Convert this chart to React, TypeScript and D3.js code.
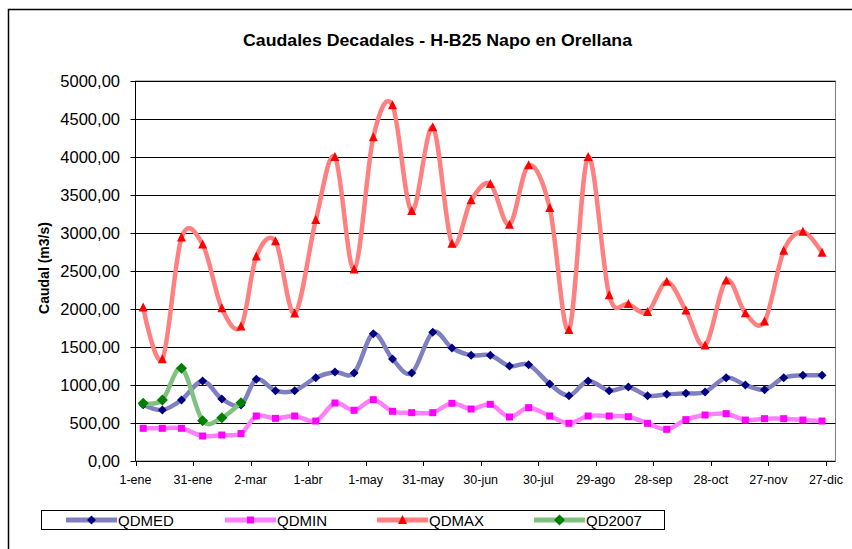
import React from "react";
import * as d3 from "d3";

const xTickLabels = ["1-ene","31-ene","2-mar","1-abr","1-may","31-may","30-jun","30-jul","29-ago","28-sep","28-oct","27-nov","27-dic"];
const xTickDays = [0,30,60,90,120,150,180,210,240,270,300,330,360];
const monthStarts = [0,31,59,90,120,151,181,212,243,273,304,334];
const decadeOffsets = [4,14,24];
const pointDays: number[] = monthStarts.flatMap((m) => decadeOffsets.map((o) => m + o));

const qdmed = [740,671,803,1053,816,737,1075,925,925,1096,1171,1158,1675,1342,1158,1693,1487,1391,1391,1250,1267,1013,860,1053,925,974,860,877,890,908,1096,1000,939,1096,1127,1127];
const qdmin = [430,430,430,329,342,360,592,561,592,526,763,667,807,654,636,636,759,684,746,579,702,592,496,592,592,583,496,417,544,605,623,539,557,557,539,526];
const qdmax = [2020,1340,2940,2850,2010,1770,2690,2890,1940,3170,4000,2520,4260,4680,3290,4390,2860,3430,3645,3110,3890,3330,1725,4000,2180,2065,1960,2360,1980,1520,2375,1945,1835,2765,3015,2740];
const qd2007 = [760,803,1219,531,570,768];
const yTicks = [0,500,1000,1500,2000,2500,3000,3500,4000,4500,5000];

const FONT = "'Liberation Sans', Arial, sans-serif";

type Marker = "diamond" | "square" | "triangle" | "bigdiamond";
function markerPath(kind: Marker, x: number, y: number): string {
  if (kind === "diamond") { const r = 4.5; return `M${x},${y - r}L${x + r},${y}L${x},${y + r}L${x - r},${y}Z`; }
  if (kind === "bigdiamond") { const r = 5.5; return `M${x},${y - r}L${x + r},${y}L${x},${y + r}L${x - r},${y}Z`; }
  if (kind === "square") { const r = 3.5; return `M${x - r},${y - r}h${2 * r}v${2 * r}h${-2 * r}Z`; }
  const r = 4.5; return `M${x},${y - r - 0.5}L${x + r},${y + r - 0.5}L${x - r},${y + r - 0.5}Z`;
}

const seriesList = [
  { name: "QDMED", values: qdmed, line: "#8080C0", fill: "#000080", marker: "diamond" as Marker },
  { name: "QDMIN", values: qdmin, line: "#FF80FF", fill: "#FF00FF", marker: "square" as Marker },
  { name: "QDMAX", values: qdmax, line: "#FF8080", fill: "#FF0000", marker: "triangle" as Marker },
  { name: "QD2007", values: qd2007, line: "#80C080", fill: "#008000", marker: "bigdiamond" as Marker },
];
const legendX = [66, 225, 377, 534];

export default function App() {
  const left = 135.5, right = 835.5, top = 81, bottom = 461;
  const x = d3.scaleLinear().domain([0, 365]).range([left, right]);
  const y = d3.scaleLinear().domain([0, 5000]).range([bottom, top]);
  const line = d3.line<[number, number]>().x((d) => x(d[0])).y((d) => y(d[1])).curve(d3.curveCardinal.tension(0));
  const fmt = (v: number) => d3.format(".2f")(v).replace(".", ",");

  return (
    <svg width={852} height={549} style={{ position: "absolute", left: 0, top: 0, background: "#fff" }} fontFamily={FONT}>
      <rect x={0} y={0} width={852} height={549} fill="#fff" />
      <rect x={8.5} y={9.5} width={900} height={600} fill="none" stroke="#000" strokeWidth={1.5} />
      <text x={437.5} y={46} textAnchor="middle" fontWeight="bold" fontSize={16.5} textLength={389} lengthAdjust="spacingAndGlyphs">Caudales Decadales - H-B25 Napo en Orellana</text>

      {/* plot area border */}
      <rect x={left} y={top} width={right - left} height={bottom - top} fill="none" stroke="#808080" strokeWidth={1} />
      {yTicks.filter((t) => t > 0).map((t) => (
        <line key={t} x1={left} x2={right} y1={Math.round(y(t)) + 0.5} y2={Math.round(y(t)) + 0.5} stroke="#000" strokeWidth={1} />
      ))}
      {/* axes */}
      <line x1={left} x2={left} y1={top} y2={bottom} stroke="#000" />
      <line x1={left} x2={right} y1={bottom + 0.5} y2={bottom + 0.5} stroke="#000" />
      {yTicks.map((t) => (
        <g key={t}>
          <line x1={left - 5} x2={left} y1={Math.round(y(t)) + 0.5} y2={Math.round(y(t)) + 0.5} stroke="#000" />
          <text x={120} y={y(t) + 6} textAnchor="end" fontSize={16.5}>{fmt(t)}</text>
        </g>
      ))}
      {xTickDays.map((dd, i) => (
        <g key={dd}>
          <line x1={Math.round(x(dd)) + 0.5} x2={Math.round(x(dd)) + 0.5} y1={bottom} y2={bottom + 5} stroke="#000" />
          <text x={x(dd)} y={484} textAnchor="middle" fontSize={12.5}>{xTickLabels[i]}</text>
        </g>
      ))}
      <text transform={`translate(49,${(top + bottom) / 2 - 3}) rotate(-90)`} textAnchor="middle" fontWeight="bold" fontSize={14}>Caudal (m3/s)</text>

      {seriesList.map((s) => {
        const pts: [number, number][] = s.values.map((v, i) => [pointDays[i], v]);
        return (
          <g key={s.name}>
            <path d={line(pts) || ""} fill="none" stroke={s.line} strokeWidth={4.5} strokeLinejoin="round" />
            {pts.map((p, i) => (
              <path key={i} d={markerPath(s.marker, x(p[0]), y(p[1]))} fill={s.fill} />
            ))}
          </g>
        );
      })}

      {/* legend */}
      <rect x={41.5} y={510.5} width={623} height={19} fill="#fff" stroke="#000" strokeWidth={1} />
      {seriesList.map((s, i) => {
        const x0 = legendX[i];
        return (
          <g key={s.name}>
            <line x1={x0} x2={x0 + 51} y1={520} y2={520} stroke={s.line} strokeWidth={5} />
            <path d={markerPath(s.marker, x0 + 25.5, 520)} fill={s.fill} />
            <text x={x0 + 52} y={525.5} fontSize={15}>{s.name}</text>
          </g>
        );
      })}
    </svg>
  );
}
